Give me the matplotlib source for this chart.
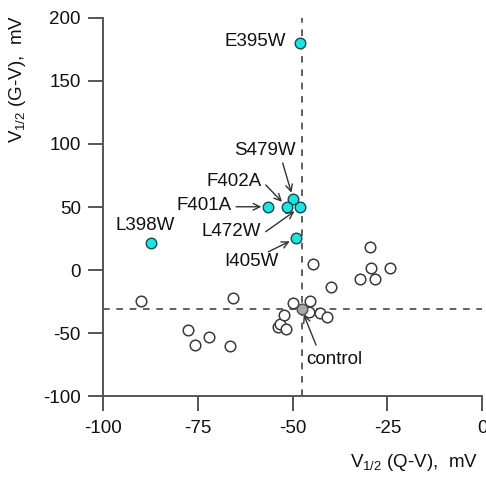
import matplotlib
matplotlib.use('Agg')
from matplotlib import pyplot as plt

plt.rcParams['font.family'] = ['Liberation Sans', 'DejaVu Sans']
plt.rcParams['mathtext.fontset'] = 'custom'
plt.rcParams['mathtext.rm'] = 'Liberation Sans'
plt.rcParams['mathtext.it'] = 'Liberation Sans'

# Data (V1/2 values, mV)
mutant_names = ['E395W', 'S479W', 'F402A', 'F401A', 'L472W', 'I405W', 'L398W']
mutant_qv = [-48.0, -49.8, -51.5, -56.4, -48.0, -49.1, -87.4]
mutant_gv = [180.0, 56.0, 50.2, 50.2, 49.8, 25.2, 21.2]

other_qv = [-90.1, -65.8, -77.5, -75.7, -72.0, -66.5, -53.9, -53.3, -52.3, -51.8, -49.9,
            -45.4, -45.6, -42.8, -41.0, -39.8, -44.7, -29.7, -29.4, -32.2, -28.2, -24.3]
other_gv = [-24.4, -22.5, -47.6, -59.5, -53.4, -60.3, -44.8, -42.5, -35.7, -47.1, -26.4,
            -24.2, -33.1, -34.2, -37.1, -13.8, 5.0, 18.5, 1.8, -7.2, -6.9, 1.8]

control_qv = -47.6
control_gv = -31.2

x_ticks = [-100, -75, -50, -25, 0]
y_ticks = [-100, -50, 0, 50, 100, 150, 200]

# label placement: (text x, text y, arrow start x, arrow start y) or None for no arrow
label_pos = {
    'E395W': (-51.7, 180.9, None, None),
    'S479W': (-57.3, 95.2, -52.6, 84.9),
    'F402A': (-65.3, 70.1, -57.1, 67.5),
    'F401A': (-73.3, 51.6, -64.9, 50.2),
    'L472W': (-66.3, 30.4, -57.1, 30.4),
    'I405W': (-60.9, 6.6, -56.4, 14.5),
    'L398W': (-89.0, 35.7, None, None),
}

fig = plt.figure(figsize=(4.86, 4.82), dpi=100)
ax = fig.add_axes([0.212, 0.178, 0.78, 0.785])

dash_color = '#444444'
ax.axvline(control_qv, color=dash_color, linestyle=(0, (4, 4)), linewidth=1.2, zorder=1)
ax.axhline(control_gv, color=dash_color, linestyle=(0, (4, 4)), linewidth=1.2, zorder=1)

ax.scatter(other_qv, other_gv, s=58, facecolor='white', edgecolor='#3a3a3a',
           linewidth=1.1, zorder=3)
ax.scatter([control_qv], [control_gv], s=58, facecolor='#a8a8a8', edgecolor='#555555',
           linewidth=1.1, zorder=4)
ax.scatter(mutant_qv, mutant_gv, s=58, facecolor='#1de3e3', edgecolor='#1a4a4a',
           linewidth=1.0, zorder=5)

fs = 13.5
for name, qx, gy in zip(mutant_names, mutant_qv, mutant_gv):
    tx, ty, ax0, ay0 = label_pos[name]
    ha = 'right' if name == 'E395W' else 'center'
    ax.text(tx, ty, name, fontsize=fs, ha=ha, va='center', color='#111111', zorder=6)
    if ax0 is not None:
        ax.annotate('', xy=(qx, gy), xytext=(ax0, ay0),
                    arrowprops=dict(arrowstyle='->', color='#333333', lw=1.0,
                                    shrinkA=0, shrinkB=5, mutation_scale=12),
                    zorder=6)

ax.text(-39.1, -70.9, 'control', fontsize=fs, ha='center', va='center', color='#111111')
ax.annotate('', xy=(control_qv, control_gv), xytext=(-43.8, -59.5),
            arrowprops=dict(arrowstyle='->', color='#333333', lw=1.0,
                            shrinkA=0, shrinkB=4, mutation_scale=12))

ax.set_xlim(-100, 0)
ax.set_ylim(-100, 200)
ax.set_xticks(x_ticks)
ax.set_yticks(y_ticks)
ax.set_xticklabels([str(v) for v in x_ticks])
ax.set_yticklabels([str(v) for v in y_ticks])

for side in ['top', 'right']:
    ax.spines[side].set_visible(False)
for side in ['left', 'bottom']:
    ax.spines[side].set_color('#555555')
    ax.spines[side].set_linewidth(1.4)
ax.tick_params(axis='both', direction='out', length=11, width=1.4, color='#555555',
               labelsize=fs, labelcolor='#111111')
ax.tick_params(axis='x', pad=6)
ax.tick_params(axis='y', pad=5)

fig.text(0.984, 0.04, r'V$_{1/2}$ (Q-V),  mV', fontsize=fs, ha='right', va='center',
         color='#111111')
fig.text(0.037, 0.97, r'V$_{1/2}$ (G-V),  mV', fontsize=fs, ha='center', va='top',
         rotation=90, color='#111111')

fig.savefig('out.png', dpi=100)
